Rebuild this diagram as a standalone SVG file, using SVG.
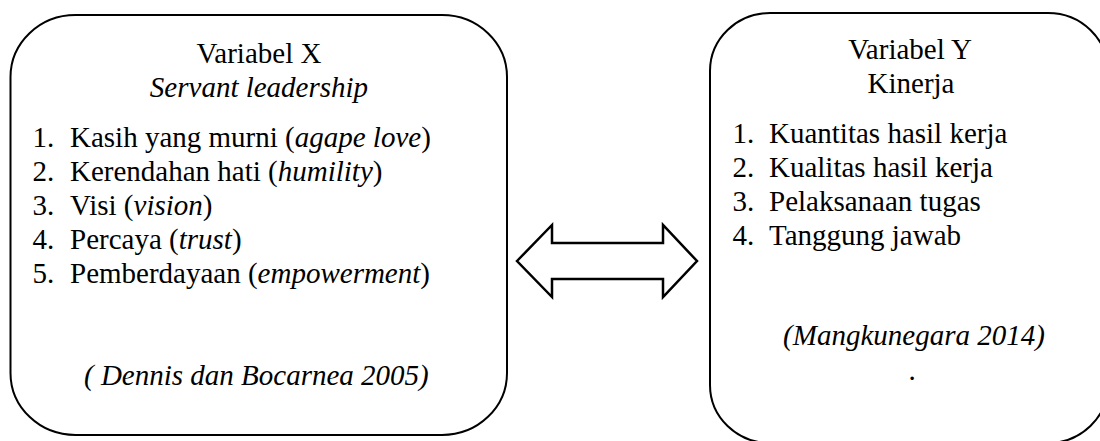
<svg xmlns="http://www.w3.org/2000/svg" width="1100" height="441" viewBox="0 0 1100 441">
<style>
.box{fill:#fff;stroke:#000;stroke-width:2}
.arrow{fill:#fff;stroke:#000;stroke-width:2.5;stroke-linejoin:miter}
text{font-family:"Liberation Serif","Times New Roman",serif;font-size:29px;fill:#000}
.c{text-anchor:middle}
.i{font-style:italic}
</style>
<rect width="1100" height="441" fill="#fff"/>
<g id="node-x">
<rect class="box" x="10.5" y="15" width="496.5" height="420" rx="65" ry="62"/>
<text class="c" x="259" y="63">Variabel X</text>
<text class="c i" x="259" y="97">Servant leadership</text>
<text y="147"><tspan x="32.5">1.</tspan><tspan x="70">Kasih yang murni (</tspan><tspan class="i">agape love</tspan>)</text>
<text y="181"><tspan x="32.5">2.</tspan><tspan x="70">Kerendahan hati (</tspan><tspan class="i">humility</tspan>)</text>
<text y="215"><tspan x="32.5">3.</tspan><tspan x="70">Visi (</tspan><tspan class="i">vision</tspan>)</text>
<text y="249"><tspan x="32.5">4.</tspan><tspan x="70">Percaya (</tspan><tspan class="i">trust</tspan>)</text>
<text y="283"><tspan x="32.5">5.</tspan><tspan x="70">Pemberdayaan (</tspan><tspan class="i">empowerment</tspan>)</text>
<text class="i" x="84" y="385">( Dennis dan Bocarnea 2005)</text>
</g>
<g id="node-y">
<rect class="box" x="710" y="13" width="398" height="430" rx="60" ry="58"/>
<text class="c" x="910" y="59">Variabel Y</text>
<text class="c" x="911" y="93">Kinerja</text>
<text y="143"><tspan x="732.5">1.</tspan><tspan x="769">Kuantitas hasil kerja</tspan></text>
<text y="177"><tspan x="732.5">2.</tspan><tspan x="769">Kualitas hasil kerja</tspan></text>
<text y="211"><tspan x="732.5">3.</tspan><tspan x="769">Pelaksanaan tugas</tspan></text>
<text y="245"><tspan x="732.5">4.</tspan><tspan x="769">Tanggung jawab</tspan></text>
<text class="c i" x="914" y="345">(Mangkunegara 2014)</text>
<text class="c" x="912" y="380">.</text>
</g>
<g id="connectors">
<polygon class="arrow" points="517,261 552,225 552,243 663,243 663,225 697,261 663,297 663,279 552,279 552,297"/>
</g>
</svg>
